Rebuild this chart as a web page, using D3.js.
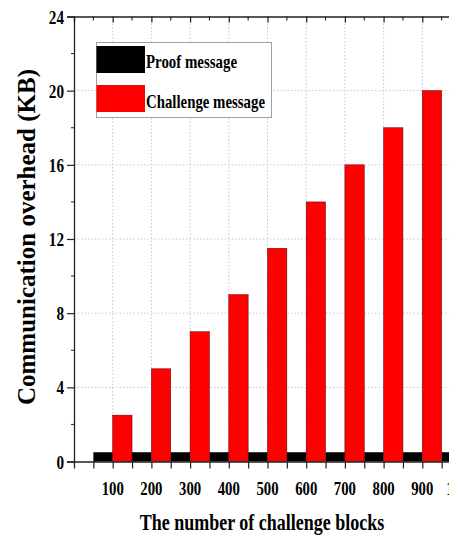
<!DOCTYPE html>
<html>
<head>
<meta charset="utf-8">
<script src="https://cdn.jsdelivr.net/npm/d3@7/dist/d3.min.js"></script>
<style>
  html, body { margin: 0; padding: 0; background: #fff; }
  svg { display: block; }
  text { font-family: "Liberation Serif", "Times New Roman", serif; font-weight: bold; fill: #000; }
</style>
</head>
<body>
<svg id="chart" width="449" height="538"></svg>
<script>
// Number of challenged blocks per experiment
const blocks = [100, 200, 300, 400, 500, 600, 700, 800, 900, 1000];
// Proof message size (KB) — constant
const proofKB = [0.5, 0.5, 0.5, 0.5, 0.5, 0.5, 0.5, 0.5, 0.5, 0.5];
// Challenge message size (KB)
const challengeKB = [2.5, 5, 7, 9, 11.5, 14, 16, 18, 20, 22];
// Axis tick values
const yTicks = [0, 4, 8, 12, 16, 20, 24];
const xLabels = ["100", "200", "300", "400", "500", "600", "700", "800", "900", "1000"];
const seriesNames = ["Proof message", "Challenge message"];
const seriesColors = ["#000000", "#ff0000"];

const svg = d3.select("#chart");
const x = d3.scaleLinear().domain([0, 1100]).range([74, 74 + 38.7 * 11]);
const y = d3.scaleLinear().domain([0, 24]).range([461.5, 16.5]);
const halfStep = x(50) - x(0);

// dotted grid
const grid = svg.append("g").attr("stroke", "#c4c4e6").attr("stroke-width", 1).attr("stroke-dasharray", "1.5,2");
grid.selectAll("line.h").data(yTicks.filter(d => d > 0 && d < 24)).join("line")
  .attr("x1", x(0)).attr("x2", x(1100)).attr("y1", d => y(d)).attr("y2", d => y(d));
grid.selectAll("line.v").data(blocks).join("line")
  .attr("x1", d => x(d)).attr("x2", d => x(d)).attr("y1", y(24)).attr("y2", y(0));

// bars: proof to the left of each tick, challenge to the right
svg.append("g").selectAll("rect").data(blocks).join("rect")
  .attr("x", d => x(d) - halfStep).attr("width", halfStep)
  .attr("y", (d, i) => y(proofKB[i])).attr("height", (d, i) => y(0) - y(proofKB[i]))
  .attr("fill", seriesColors[0]);
svg.append("g").selectAll("rect").data(blocks).join("rect")
  .attr("x", d => x(d)).attr("width", halfStep)
  .attr("y", (d, i) => y(challengeKB[i])).attr("height", (d, i) => y(0) - y(challengeKB[i]))
  .attr("fill", seriesColors[1]).attr("stroke", "#5a0000").attr("stroke-width", 0.5);

// axes
const axisColor = "#222";
const leftAxis = d3.axisLeft(y).tickValues(yTicks).tickSize(7).tickPadding(3).tickFormat(d3.format("d"));
const gl = svg.append("g").attr("transform", `translate(${x(0)},0)`).call(leftAxis);
gl.select(".domain").attr("stroke", axisColor).attr("stroke-width", 1.3);
gl.selectAll(".tick line").attr("stroke", axisColor).attr("stroke-width", 1.2);
gl.selectAll(".tick text").remove();
gl.selectAll(".tick").append("text")
  .attr("transform", "translate(-10,6.5) scale(0.8,1)")
  .attr("text-anchor", "end").style("font-size", "19px").text(d => d);
// minor y ticks
svg.append("g").selectAll("line").data(d3.range(2, 24, 4)).join("line")
  .attr("x1", x(0) - 3).attr("x2", x(0)).attr("y1", d => y(d)).attr("y2", d => y(d))
  .attr("stroke", axisColor).attr("stroke-width", 1);

const bottomAxis = d3.axisBottom(x).tickValues(d3.range(50, 1100, 50)).tickSize(7).tickFormat("");
const gb = svg.append("g").attr("transform", `translate(0,${y(0)})`).call(bottomAxis);
gb.select(".domain").attr("stroke", axisColor).attr("stroke-width", 1.3);
gb.selectAll(".tick line").attr("stroke", axisColor).attr("stroke-width", 1.2);
svg.append("g").selectAll("text").data(blocks).join("text")
  .attr("transform", (d) => `translate(${x(d)},495) scale(0.82,1)`)
  .attr("text-anchor", "middle").style("font-size", "18px")
  .text((d, i) => xLabels[i]);

const topAxis = d3.axisBottom(x).tickValues(d3.range(100, 1100, 100)).tickSize(6).tickFormat("");
const gt = svg.append("g").attr("transform", `translate(0,${y(24)})`).call(topAxis);
gt.select(".domain").attr("stroke", axisColor).attr("stroke-width", 1.3);
gt.selectAll(".tick line").attr("stroke", axisColor).attr("stroke-width", 1.2);
svg.append("g").selectAll("line").data(d3.range(50, 1100, 100)).join("line")
  .attr("x1", d => x(d)).attr("x2", d => x(d)).attr("y1", y(24)).attr("y2", y(24) + 4)
  .attr("stroke", axisColor).attr("stroke-width", 1.1);

// axis titles
svg.append("text")
  .attr("transform", "translate(262,530) scale(0.8,1)")
  .attr("text-anchor", "middle").style("font-size", "22.5px")
  .text("The number of challenge blocks");
svg.append("text")
  .attr("transform", "translate(35,237) rotate(-90)")
  .attr("text-anchor", "middle").style("font-size", "25px")
  .text("Communication overhead (KB)");

// legend
const lg = svg.append("g");
lg.append("rect").attr("x", 96.5).attr("y", 42.5).attr("width", 175).attr("height", 75)
  .attr("fill", "#fff").attr("stroke", "#a0a0a0").attr("stroke-width", 1);
const legendRows = [{ y: 46, text: 68, len: 91 }, { y: 85, text: 107.5, len: 119 }];
seriesNames.forEach((name, i) => {
  lg.append("rect").attr("x", 96.5).attr("y", legendRows[i].y).attr("width", 48.5).attr("height", 27)
    .attr("fill", seriesColors[i]);
  lg.append("text").attr("x", 146).attr("y", legendRows[i].text)
    .style("font-size", "19.5px")
    .attr("textLength", legendRows[i].len).attr("lengthAdjust", "spacingAndGlyphs")
    .text(name);
});
</script>
</body>
</html>
